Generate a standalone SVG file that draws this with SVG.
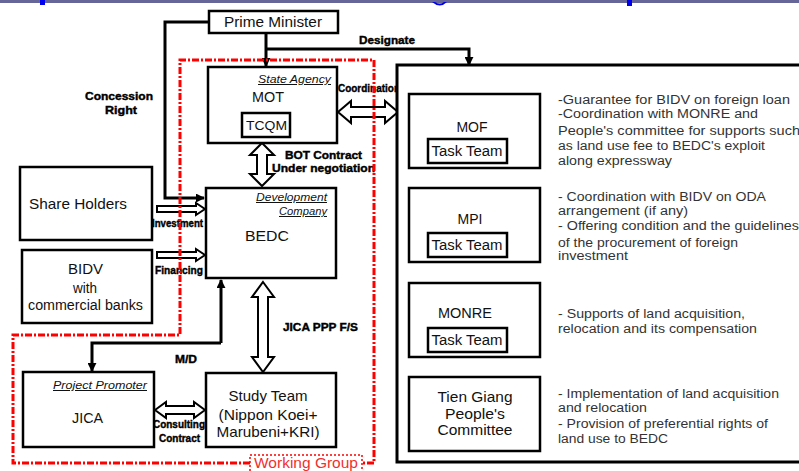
<svg xmlns="http://www.w3.org/2000/svg" width="799" height="471" viewBox="0 0 799 471">
<defs>
<marker id="ah" viewBox="0 0 10 10" refX="9" refY="5" markerWidth="9" markerHeight="9" markerUnits="userSpaceOnUse" orient="auto">
<path d="M0,0 L10,5 L0,10 Z" fill="#000"/>
</marker>
</defs>
<style>
.box{fill:#fff;stroke:#000;stroke-width:2.5}
.ln{fill:none;stroke:#000;stroke-width:3}
.hol{fill:#fff;stroke:#000;stroke-width:2;stroke-linejoin:miter}
.t{font-family:"Liberation Sans",Arial,sans-serif;fill:#111}
.c{text-anchor:middle}
.lb{font-family:"Liberation Sans",Arial,sans-serif;font-weight:bold;font-size:11px;fill:#000;stroke:#000;stroke-width:0.4}
.it{font-family:"Liberation Sans",Arial,sans-serif;font-style:italic;font-size:10px;text-decoration:underline;fill:#111}
.d{font-family:"Liberation Sans",Arial,sans-serif;font-size:12.5px;fill:#333}
.red{fill:none;stroke:#f00;stroke-width:3;stroke-dasharray:7,2,2,2}
</style>
<rect width="799" height="471" fill="#fff"/>
<rect x="0" y="0" width="799" height="3" fill="#666699"/>
<g fill="#0000ee">
<rect x="40" y="0" width="5" height="5"/>
<path d="M432,2 Q440,9 447,2 L444,2 Q440,5 435,2 Z"/>
<rect x="627" y="0" width="5" height="6"/>
</g>

<g id="connectors">
<path class="ln" d="M209,22 H165 V198 H204" marker-end="url(#ah)"/>
<path class="ln" d="M266,33 V66" marker-end="url(#ah)"/>
<path class="ln" stroke-width="2.5" d="M266,49 H469 V65" marker-end="url(#ah)"/>
<path class="ln" d="M221,343 V280" marker-end="url(#ah)"/>
<path class="ln" d="M221,343 H92 V371" marker-end="url(#ah)"/>
<path class="hol" d="M338,112 L351,101 L351,107 L385,107 L385,101 L398,112 L385,123 L385,117 L351,117 L351,123 Z"/>
<path class="hol" d="M262,143 L274,155 L267,155 L267,174 L274,174 L262,186 L250,174 L257,174 L257,155 L250,155 Z"/>
<path class="hol" d="M263,282 L274,297 L268,297 L268,357 L274,357 L263,372 L252,357 L258,357 L258,297 L252,297 Z"/>
<path class="hol" d="M155,410 L166,402 L166,406 L194,406 L194,402 L205,410 L194,418 L194,414 L166,414 L166,418 Z"/>
<path class="hol" d="M157,206 L196,206 L196,203 L205,209 L196,215 L196,212 L157,212 Z"/>
<path class="hol" d="M157,252 L196,252 L196,249 L205,255 L196,261 L196,258 L157,258 Z"/>
<text class="lb" x="359" y="44" textLength="56" lengthAdjust="spacingAndGlyphs">Designate</text>
<text class="lb" x="85" y="100" textLength="68" lengthAdjust="spacingAndGlyphs">Concession</text>
<text class="lb" x="105" y="114" textLength="32" lengthAdjust="spacingAndGlyphs">Right</text>
<text class="lb" x="338" y="92" textLength="62" lengthAdjust="spacingAndGlyphs">Coordination</text>
<text class="lb" x="285" y="159" textLength="77" lengthAdjust="spacingAndGlyphs">BOT Contract</text>
<text class="lb" x="272" y="172" textLength="103" lengthAdjust="spacingAndGlyphs">Under negotiation</text>
<text class="lb" x="152" y="227" textLength="51" lengthAdjust="spacingAndGlyphs">Investment</text>
<text class="lb" x="155" y="274" textLength="48" lengthAdjust="spacingAndGlyphs">Financing</text>
<text class="lb" x="283" y="331" textLength="75" lengthAdjust="spacingAndGlyphs">JICA PPP F/S</text>
<text class="lb" x="175" y="363" textLength="22" lengthAdjust="spacingAndGlyphs">M/D</text>
<text class="lb" x="153" y="428" textLength="52" lengthAdjust="spacingAndGlyphs">Consulting</text>
<text class="lb" x="159" y="442" textLength="41" lengthAdjust="spacingAndGlyphs">Contract</text>
</g>

<g id="prime-minister">
<rect class="box" x="209" y="11" width="129" height="22"/>
<text class="t c" x="273" y="27" font-size="14" textLength="98" lengthAdjust="spacingAndGlyphs">Prime Minister</text>
</g>

<g id="mot">
<rect class="box" x="208" y="67" width="129" height="76"/>
<text class="it" x="258" y="83" font-size="11" textLength="73" lengthAdjust="spacingAndGlyphs">State Agency</text>
<text class="t" x="252" y="102" font-size="14" fill="#113" textLength="32" lengthAdjust="spacingAndGlyphs">MOT</text>
<rect class="box" x="242" y="113" width="48" height="24" stroke-width="3"/>
<text class="t" x="246" y="130" font-size="13" textLength="41" lengthAdjust="spacingAndGlyphs">TCQM</text>
</g>

<g id="bedc">
<rect class="box" x="206" y="188" width="130" height="90"/>
<text class="it" x="256" y="201" textLength="71" lengthAdjust="spacingAndGlyphs">Development</text>
<text class="it" x="279" y="215" textLength="48" lengthAdjust="spacingAndGlyphs">Company</text>
<text class="t" x="245" y="241" font-size="15" textLength="44" lengthAdjust="spacingAndGlyphs">BEDC</text>
</g>

<g id="share-holders">
<rect class="box" x="20" y="167" width="132" height="73"/>
<text class="t" x="29" y="209" font-size="15" textLength="98" lengthAdjust="spacingAndGlyphs">Share Holders</text>
</g>

<g id="bidv">
<rect class="box" x="22" y="250" width="130" height="73"/>
<text class="t" x="68" y="274" font-size="15" textLength="35" lengthAdjust="spacingAndGlyphs">BIDV</text>
<text class="t" x="73" y="293" font-size="14" textLength="24" lengthAdjust="spacingAndGlyphs">with</text>
<text class="t" x="28" y="310" font-size="14" textLength="115" lengthAdjust="spacingAndGlyphs">commercial banks</text>
</g>

<g id="jica">
<rect class="box" x="23" y="372" width="131" height="75"/>
<text class="it" x="53" y="389" font-size="11" textLength="94" lengthAdjust="spacingAndGlyphs">Project Promoter</text>
<text class="t" x="72" y="423" font-size="14" textLength="31" lengthAdjust="spacingAndGlyphs">JICA</text>
</g>

<g id="study-team">
<rect class="box" x="206" y="373" width="130" height="74"/>
<text class="t c" x="268" y="401" font-size="15" textLength="79" lengthAdjust="spacingAndGlyphs">Study Team</text>
<text class="t c" x="268" y="420" font-size="15" textLength="99" lengthAdjust="spacingAndGlyphs">(Nippon Koei+</text>
<text class="t c" x="268" y="437" font-size="15" textLength="103" lengthAdjust="spacingAndGlyphs">Marubeni+KRI)</text>
</g>

<g id="working-group">
<path class="red" d="M250,463 H13 V335 H180 V60 H374 V463 H362"/>
<rect x="250" y="455" width="112" height="20" fill="#fff" stroke="#f00" stroke-width="1.5" stroke-dasharray="2,2"/>
<text class="t" x="306" y="468" font-size="14" text-anchor="middle" style="fill:#f03030" textLength="104" lengthAdjust="spacingAndGlyphs">Working Group</text>
</g>

<g id="ministries">
<rect x="397" y="65" width="420" height="397" fill="#fff" stroke="#000" stroke-width="3"/>
</g>

<g id="mof">
<rect class="box" x="409" y="94" width="131" height="74"/>
<text class="t c" x="472" y="132" font-size="14">MOF</text>
<rect class="box" x="428" y="139" width="79" height="24"/>
<text class="t c" x="467" y="156" font-size="14" textLength="71" lengthAdjust="spacingAndGlyphs">Task Team</text>
<text class="d" x="558" y="104" textLength="232" lengthAdjust="spacingAndGlyphs">-Guarantee for BIDV on foreign loan</text>
<text class="d" x="558" y="118" textLength="200" lengthAdjust="spacingAndGlyphs">-Coordination with MONRE and</text>
<text class="d" x="558" y="135" textLength="242" lengthAdjust="spacingAndGlyphs">People's committee for supports such</text>
<text class="d" x="558" y="150" textLength="207" lengthAdjust="spacingAndGlyphs">as land use fee to BEDC's exploit</text>
<text class="d" x="558" y="165" textLength="114" lengthAdjust="spacingAndGlyphs">along expressway</text>
</g>

<g id="mpi">
<rect class="box" x="409" y="188" width="131" height="74"/>
<text class="t c" x="470" y="224" font-size="14">MPI</text>
<rect class="box" x="428" y="233" width="79" height="24"/>
<text class="t c" x="467" y="250" font-size="14" textLength="71" lengthAdjust="spacingAndGlyphs">Task Team</text>
<text class="d" x="558" y="201" textLength="208" lengthAdjust="spacingAndGlyphs">- Coordination with BIDV on ODA</text>
<text class="d" x="558" y="215" textLength="130" lengthAdjust="spacingAndGlyphs">arrangement (if any)</text>
<text class="d" x="558" y="230" textLength="241" lengthAdjust="spacingAndGlyphs">- Offering condition and the guidelines</text>
<text class="d" x="558" y="247" textLength="180" lengthAdjust="spacingAndGlyphs">of the procurement of foreign</text>
<text class="d" x="558" y="260" textLength="70" lengthAdjust="spacingAndGlyphs">investment</text>
</g>

<g id="monre">
<rect class="box" x="409" y="283" width="131" height="74"/>
<text class="t" x="438" y="318" font-size="14" textLength="54" lengthAdjust="spacingAndGlyphs">MONRE</text>
<rect class="box" x="428" y="328" width="79" height="24"/>
<text class="t c" x="467" y="345" font-size="14" textLength="71" lengthAdjust="spacingAndGlyphs">Task Team</text>
<text class="d" x="558" y="318" textLength="187" lengthAdjust="spacingAndGlyphs">- Supports of land acquisition,</text>
<text class="d" x="558" y="333" textLength="199" lengthAdjust="spacingAndGlyphs">relocation and its compensation</text>
</g>

<g id="tien-giang">
<rect class="box" x="409" y="377" width="131" height="74"/>
<text class="t c" x="475" y="402" font-size="14" textLength="75" lengthAdjust="spacingAndGlyphs">Tien Giang</text>
<text class="t c" x="475" y="419" font-size="14" textLength="60" lengthAdjust="spacingAndGlyphs">People's</text>
<text class="t c" x="475" y="435" font-size="14" textLength="75" lengthAdjust="spacingAndGlyphs">Committee</text>
<text class="d" x="558" y="398" textLength="221" lengthAdjust="spacingAndGlyphs">- Implementation of land acquisition</text>
<text class="d" x="558" y="412" textLength="89" lengthAdjust="spacingAndGlyphs">and relocation</text>
<text class="d" x="558" y="428" textLength="210" lengthAdjust="spacingAndGlyphs">- Provision of preferential rights of</text>
<text class="d" x="558" y="443" textLength="110" lengthAdjust="spacingAndGlyphs">land use to BEDC</text>
</g>
</svg>
